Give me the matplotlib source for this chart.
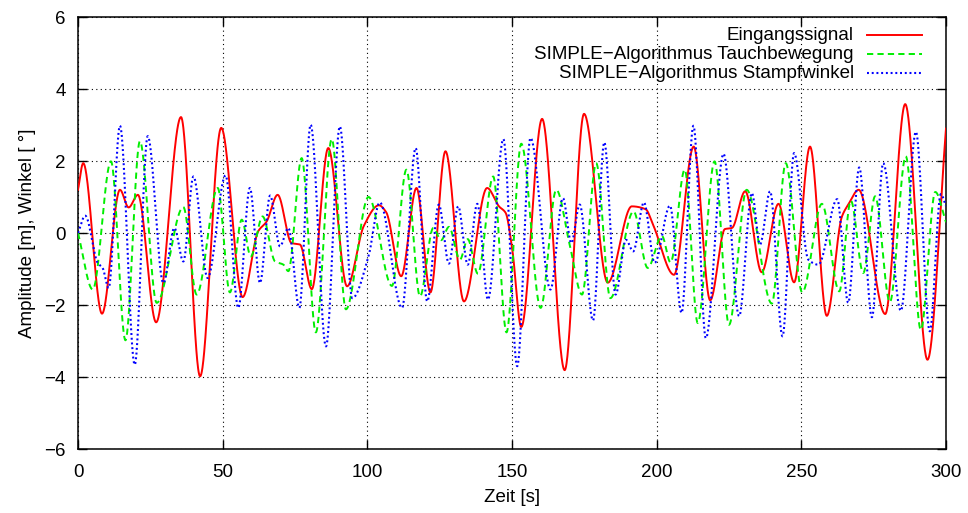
import numpy as np
import matplotlib
matplotlib.use("Agg")
import matplotlib.pyplot as plt
from matplotlib.lines import Line2D

plt.rcParams["font.family"] = ["Liberation Sans", "DejaVu Sans"]
plt.rcParams["lines.scale_dashes"] = False

# Eingangssignal: (Zeit [s], Amplitude)
t_in = [0.0, 1.8, 8.3, 14.5, 17.5, 20.7, 27.0, 35.6, 42.2, 49.5, 56.9, 62.3, 65.2,
        69.0, 73.8, 76.7, 80.8, 86.5, 93.0, 98.8, 104.0, 106.5, 111.7, 117.0, 121.8,
        127.0, 133.4, 141.4, 145.5, 147.8, 150.1, 153.2, 160.4, 168.2, 174.9, 183.1,
        191.4, 196.2, 198.8, 206.0, 212.8, 218.5, 223.6, 226.0, 230.6, 236.3, 242.1,
        247.5, 253.0, 258.8, 264.0, 266.3, 269.8, 279.0, 285.9, 293.6, 300.0]
y_in = [1.2, 1.94, -2.24, 1.2, 0.71, 1.06, -2.48, 3.22, -3.98, 2.92, -1.78, 0.05, 0.32,
        1.06, -0.28, -0.32, -1.56, 2.36, -1.48, 0.2, 0.77, 0.58, -1.20, 1.25, -1.65,
        2.27, -1.90, 1.25, 0.74, 0.56, -0.46, -2.61, 3.17, -3.81, 3.31, -1.38,
        0.74, 0.66, 0.22, -1.16, 2.40, -1.87, 0.11, 0.14, 1.16, -1.09, 0.81,
        -1.37, 2.40, -2.30, 0.45, 0.80, 1.2, -2.25, 3.58, -3.52, 2.9]

# SIMPLE-Algorithmus Tauchbewegung
t_heave = [0.0, 5.1, 11.4, 16.4, 21.4, 27.2, 36.4, 41.0, 48.3, 52.5, 56.6, 59.7, 63.8,
           68.1, 71.0, 72.7, 77.3, 82.2, 87.7, 92.6, 100.4, 108.5, 113.5, 118.2, 122.8,
           125.5, 128.2, 132.0, 134.7, 138.2, 143.5, 148.1, 153.2, 159.9, 165.3, 170.0,
           174.2, 179.1, 184.0, 192.0, 196.9, 201.8, 204.8, 209.7, 214.2, 220.0, 225.0,
           231.1, 239.8, 244.6, 250.3, 257.1, 263.1, 267.1, 271.4, 275.5, 280.6, 286.1,
           291.3, 296.3, 300.0]
y_heave = [0.0, -1.57, 1.99, -2.98, 2.55, -1.94, 0.72, -1.71, 1.25, -1.65, 0.37, -0.65, 0.46,
           -0.79, -0.88, -1.06, 2.08, -2.76, 2.61, -2.12, 1.0, -1.47, 1.76, -1.76, 0.14,
           -0.2, 0.17, -0.74, -0.17, -1.13, 1.57, -2.76, 2.48, -2.08, 1.2, -0.35,
           -1.71, 1.94, -1.81, 0.6, -0.97, -0.08, -0.82, 1.76, -2.5, 1.99, -2.55,
           1.2, -1.96, 1.94, -1.65, 0.81, -1.62, 0.9, -1.11, 1.02, -1.92, 2.13,
           -2.69, 1.14, 0.3]

# SIMPLE-Algorithmus Stampfwinkel
t_pitch = [0.0, 2.5, 6.8, 8.5, 10.6, 14.5, 19.6, 24.1, 29.5, 33.3, 36.4, 39.9, 44.8,
           51.0, 55.4, 59.4, 62.9, 66.4, 69.8, 72.7, 76.5, 80.4, 85.7, 90.5, 94.8,
           100.4, 104.3, 112.0, 116.7, 120.7, 124.7, 128.2, 131.4, 134.7, 138.0, 141.7,
           147.0, 151.8, 156.4, 163.3, 167.6, 170.5, 173.4, 178.0, 181.9, 185.8, 189.4,
           191.9, 195.6, 199.3, 204.6, 208.6, 212.7, 217.0, 223.1, 228.5, 232.9, 235.7,
           239.2, 243.5, 247.5, 252.4, 255.9, 262.4, 266.2, 270.0, 274.4, 278.3, 284.4,
           289.6, 294.4, 298.2, 300.0]
y_pitch = [0.0, 0.48, -0.83, -0.97, -1.53, 2.98, -3.66, 2.69, -1.39, 0.14, -0.79, 1.57, -1.25,
           1.6, -2.08, 1.25, -1.39, 1.04, -0.37, 0.14, -2.08, 3.01, -3.15, 2.96, -1.81,
           -0.65, 0.85, -2.08, 2.36, -1.90, 0.79, -0.85, 0.74, -0.88, 0.81, -1.85,
           2.61, -3.70, 2.64, -1.57, 0.97, -0.28, 0.79, -2.43, 2.52, -1.71, -0.19,
           -0.51, 0.85, -0.83, 0.76, -2.22, 2.98, -2.92, 2.2, -2.31, 1.11, -0.32,
           1.16, -2.87, 2.22, -0.74, -0.88, 0.94, -1.94, 1.82, -2.34, 1.94, -2.16,
           2.81, -2.73, 1.08, 0.75]

x_ticks = [0, 50, 100, 150, 200, 250, 300]
y_ticks = [-6, -4, -2, 0, 2, 4, 6]

labels = ["Eingangssignal",
          "SIMPLE\u2212Algorithmus Tauchbewegung",
          "SIMPLE\u2212Algorithmus Stampfwinkel"]

FS = 13.5


def smooth_curve(x, y, n=3000):
    """Shape-preserving cubic (PCHIP) curve through the given samples."""
    x = np.asarray(x, float)
    y = np.asarray(y, float)
    h = np.diff(x)
    delta = np.diff(y) / h
    d = np.zeros_like(y)
    for k in range(1, len(x) - 1):
        if delta[k - 1] * delta[k] > 0:
            w1 = 2 * h[k] + h[k - 1]
            w2 = h[k] + 2 * h[k - 1]
            d[k] = (w1 + w2) / (w1 / delta[k - 1] + w2 / delta[k])
    d[0] = delta[0]
    d[-1] = delta[-1]
    xs = np.linspace(x[0], x[-1], n)
    idx = np.clip(np.searchsorted(x, xs) - 1, 0, len(x) - 2)
    hh = h[idx]
    s = (xs - x[idx]) / hh
    h00 = 2 * s**3 - 3 * s**2 + 1
    h10 = s**3 - 2 * s**2 + s
    h01 = -2 * s**3 + 3 * s**2
    h11 = s**3 - s**2
    ys = h00 * y[idx] + h10 * hh * d[idx] + h01 * y[idx + 1] + h11 * hh * d[idx + 1]
    return xs, ys


fig = plt.figure(figsize=(9.68, 5.13), dpi=100)
ax = fig.add_axes([78 / 968, 1 - 449 / 513, 868 / 968, 432 / 513])

styles = [
    dict(color="#ff0000", lw=1.4, linestyle="-"),
    dict(color="#00ee00", lw=1.4, linestyle=(0, (4.5, 3.0))),
    dict(color="#0000ff", lw=1.5, linestyle=(0, (1.4, 2.0))),
]
series = [(t_in, y_in), (t_heave, y_heave), (t_pitch, y_pitch)]

for (tx, ty), st in zip(series, styles):
    xs, ys = smooth_curve(tx, ty)
    ax.plot(xs, ys, zorder=3, **st)

ax.set_xlim(0, 300)
ax.set_ylim(-6, 6)
ax.set_xticks(x_ticks)
ax.set_yticks(y_ticks)
ax.grid(True, color="black", linestyle=(0, (0.8, 2.4)), lw=0.8, zorder=1)
ax.tick_params(direction="in", length=6.5, width=1, top=True, right=True,
               labelsize=FS)
ax.tick_params(axis="y", pad=9)
ax.tick_params(axis="x", pad=10.5)
for sp in ax.spines.values():
    sp.set_linewidth(1.1)

ax.set_xlabel("Zeit [s]", fontsize=FS, labelpad=6)
ax.set_ylabel("Amplitude [m], Winkel [ \u00b0]", fontsize=FS, labelpad=6)

# key in the upper right: text right-aligned, line sample after it
row_y = [0.958, 0.914, 0.870]
for lab, st, yy in zip(labels, styles, row_y):
    ax.text(0.894, yy, lab, transform=ax.transAxes, ha="right", va="center",
            fontsize=FS, zorder=5)
    ax.add_line(Line2D([0.909, 0.972], [yy, yy], transform=ax.transAxes,
                       zorder=5, **st))

fig.savefig("out.png", dpi=100)
